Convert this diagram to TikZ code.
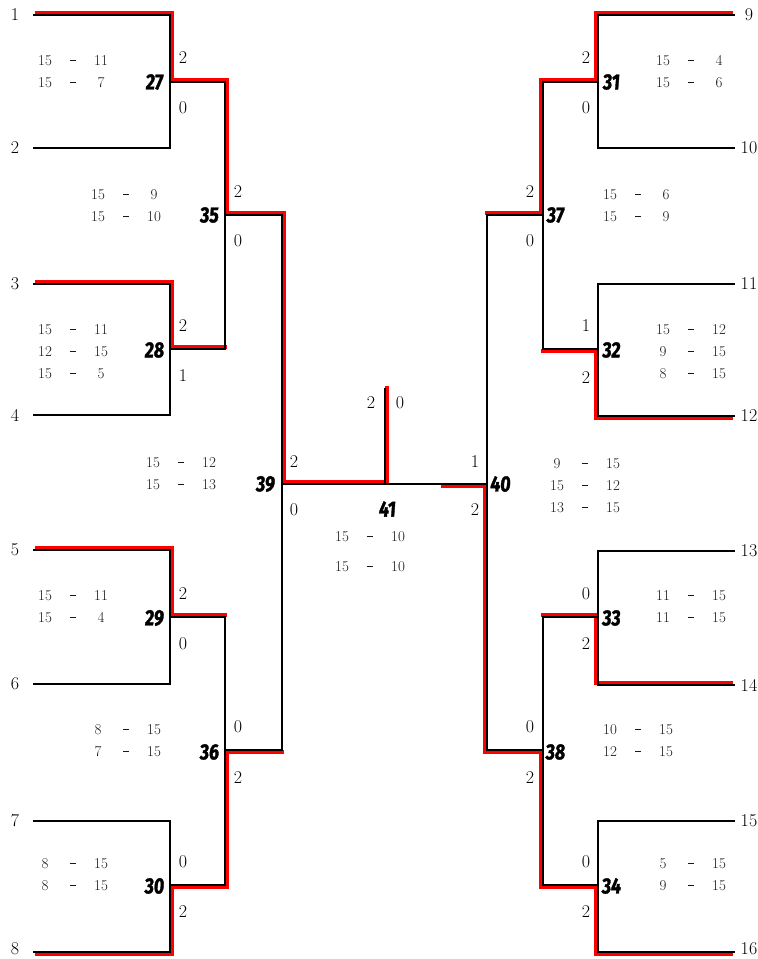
\documentclass[tikz,border=0pt]{standalone}
\usepackage{fontspec}
\usepackage{array}
\newfontfamily\matchfont{Fira Sans}[FakeStretch=0.8, FakeBold=1.5, FakeSlant=0.08]
\newcolumntype{C}{>{\centering\arraybackslash}p{16pt}}
\newcommand\scoretab[1]{\begin{tabular}{@{}CCC@{}}#1\end{tabular}}
\newcommand\dashmark{\rule[4.5pt]{6.5pt}{1pt}}

\begin{document}
\begin{tikzpicture}[x=1pt, y=-1pt,
    wire/.style={draw=black, line width=2.2pt},
    win/.style={draw=red, line width=4.5pt},
    player/.style={inner sep=0pt, font=\fontsize{18}{18}\selectfont},
    games/.style={inner sep=0pt, font=\fontsize{18}{18}\selectfont},
    matchno/.style={inner sep=0pt, font=\matchfont\bfseries\fontsize{22}{22}\selectfont},
    score/.style={inner sep=0pt, text=black!90, font=\fontsize{15}{22}\selectfont}]

    \useasboundingbox (0,0) rectangle (758,959);

    % players
    \foreach \i/\y in {1/15, 2/148, 3/284, 4/415, 5/550, 6/684, 7/821, 8/952}
        \coordinate (p\i) at (33,\y);
    \foreach \i/\y in {9/15, 10/148, 11/284, 12/416, 13/551, 14/685, 15/821, 16/952}
        \coordinate (p\i) at (735,\y);

    % matches
    \coordinate (m27) at (170,82);
    \coordinate (m28) at (170,349);
    \coordinate (m29) at (170,617);
    \coordinate (m30) at (170,885);
    \coordinate (m35) at (225,215);
    \coordinate (m36) at (225,750);
    \coordinate (m39) at (282,484);
    \coordinate (m31) at (598,82);
    \coordinate (m32) at (598,349);
    \coordinate (m33) at (598,617);
    \coordinate (m34) at (598,885);
    \coordinate (m37) at (543,215);
    \coordinate (m38) at (543,750);
    \coordinate (m40) at (487,484);
    \coordinate (m41) at (385,484);
    \coordinate (t41) at (385,388);
    \coordinate (s40) at (443,484);

    % winners
    \draw[win, transform canvas={xshift=2pt, yshift=2pt}] (p1) -| (m27) -| (m35) -| (m39) -| (t41);
    \draw[win, transform canvas={xshift=2pt, yshift=2pt}] (p3) -| (m28) -- (m28 -| m35);
    \draw[win, transform canvas={xshift=2pt, yshift=2pt}] (p5) -| (m29) -- (m29 -| m36);
    \draw[win, transform canvas={xshift=2pt, yshift=-2pt}] (p8) -| (m30) -| (m36) -- (m36 -| m39);
    \draw[win, transform canvas={xshift=-2pt, yshift=2pt}] (p9) -| (m31) -| (m37) -- (m37 -| m40);
    \draw[win, transform canvas={xshift=-2pt, yshift=-2pt}] (p12) -| (m32) -- (m32 -| m37);
    \draw[win, transform canvas={xshift=-2pt, yshift=2pt}] (p14) -| (m33) -- (m33 -| m38);
    \draw[win, transform canvas={xshift=-2pt, yshift=-2pt}] (p16) -| (m34) -| (m38) -| (m40) -- (s40);

    % bracket
    \draw[wire] (p1) -| (m27) |- (p2);
    \draw[wire] (p3) -| (m28) |- (p4);
    \draw[wire] (p5) -| (m29) |- (p6);
    \draw[wire] (p7) -| (m30) |- (p8);
    \draw[wire] (m27) -| (m35) |- (m28);
    \draw[wire] (m29) -| (m36) |- (m30);
    \draw[wire] (m35) -| (m39) |- (m36);
    \draw[wire] (p9) -| (m31) |- (p10);
    \draw[wire] (p11) -| (m32) |- (p12);
    \draw[wire] (p13) -| (m33) |- (p14);
    \draw[wire] (p15) -| (m34) |- (p16);
    \draw[wire] (m31) -| (m37) |- (m32);
    \draw[wire] (m33) -| (m38) |- (m34);
    \draw[wire] (m37) -| (m40) |- (m38);
    \draw[wire] (m39) -- (m40);
    \draw[wire] (m41) -- (t41);

    % labels
    \foreach \i/\y in {1/15, 2/148, 3/284, 4/415, 5/550, 6/684, 7/821, 8/949}
        \node[player] (n\i) at (15,\y) {\i};
    \foreach \i/\y in {9/15, 10/148, 11/284, 12/416, 13/551, 14/685, 15/821, 16/949}
        \node[player] (n\i) at (749,\y) {\i};

    \foreach \m/\x/\y in {27/154/82, 28/154/350, 29/154/618, 30/154/886, 35/209/215, 36/209/752, 39/265/484,
                          31/611/82, 32/611/350, 33/611/618, 34/611/886, 37/555/215, 38/555/752, 40/500/484, 41/387/509}
        \node[matchno] (lbl\m) at (\x,\y) {\m};

    \foreach \n/\x/\y/\t in {27a/183/58/2, 27b/183/108/0, 35a/238/192/2, 35b/238/241/0,
                             28a/183/326/2, 28b/183/376/1, 29a/183/594/2, 29b/183/644/0,
                             36a/238/727/0, 36b/238/778/2, 30a/183/862/0, 30b/183/912/2,
                             39a/294/462/2, 39b/294/510/0, 41a/371/403/2, 41b/400/403/0,
                             40a/475/462/1, 40b/475/510/2,
                             31a/586/58/2, 31b/586/108/0, 37a/530/192/2, 37b/530/241/0,
                             32a/586/326/1, 32b/586/378/2, 33a/586/594/0, 33b/586/644/2,
                             38a/530/727/0, 38b/530/778/2, 34a/586/862/0, 34b/586/912/2}
        \node[games] (g\n) at (\x,\y) {\t};

    % scores
    \node[score] (sc27) at (73,72) {\scoretab{15&\dashmark&11\\15&\dashmark&7}};
    \node[score] (sc35) at (126,206) {\scoretab{15&\dashmark&9\\15&\dashmark&10}};
    \node[score] (sc28) at (73,352) {\scoretab{15&\dashmark&11\\12&\dashmark&15\\15&\dashmark&5}};
    \node[score] (sc39) at (181,474) {\scoretab{15&\dashmark&12\\15&\dashmark&13}};
    \node[score] (sc29) at (73,607) {\scoretab{15&\dashmark&11\\15&\dashmark&4}};
    \node[score] (sc36) at (126,741) {\scoretab{8&\dashmark&15\\7&\dashmark&15}};
    \node[score] (sc30) at (73,875) {\scoretab{8&\dashmark&15\\8&\dashmark&15}};
    \node[score] (sc41) at (370,552) {\scoretab{15&\dashmark&10\\[8pt]15&\dashmark&10}};
    \node[score] (sc31) at (691,72) {\scoretab{15&\dashmark&4\\15&\dashmark&6}};
    \node[score] (sc37) at (638,206) {\scoretab{15&\dashmark&6\\15&\dashmark&9}};
    \node[score] (sc32) at (691,352) {\scoretab{15&\dashmark&12\\9&\dashmark&15\\8&\dashmark&15}};
    \node[score] (sc40) at (585,486) {\scoretab{9&\dashmark&15\\15&\dashmark&12\\13&\dashmark&15}};
    \node[score] (sc33) at (691,607) {\scoretab{11&\dashmark&15\\11&\dashmark&15}};
    \node[score] (sc38) at (638,741) {\scoretab{10&\dashmark&15\\12&\dashmark&15}};
    \node[score] (sc34) at (691,875) {\scoretab{5&\dashmark&15\\9&\dashmark&15}};
\end{tikzpicture}
\end{document}
